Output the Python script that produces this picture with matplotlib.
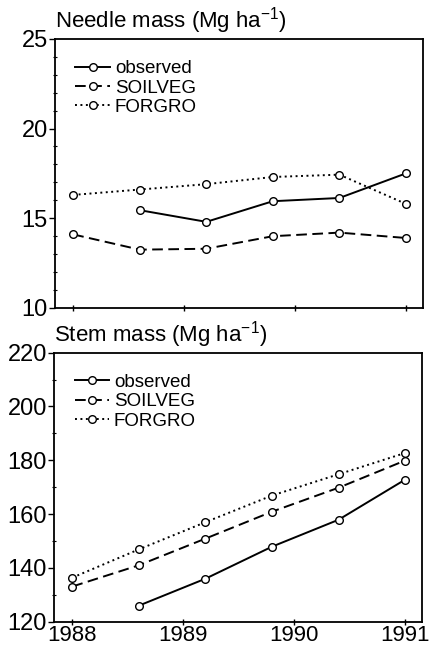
import numpy as np
import matplotlib
matplotlib.use('Agg')
import matplotlib.pyplot as plt
from matplotlib.ticker import MultipleLocator

plt.rcParams['font.family'] = ['Liberation Sans', 'DejaVu Sans']
plt.rcParams['mathtext.default'] = 'regular'

# sampling dates (every 0.6 yr)
years = [1988.0, 1988.6, 1989.2, 1989.8, 1990.4, 1991.0]

# needle mass (Mg/ha)
needle_obs = [15.45, 14.8, 15.95, 16.13, 17.5]
needle_soilveg = [14.1, 13.25, 13.3, 14.0, 14.2, 13.9]
needle_forgro = [16.3, 16.6, 16.9, 17.3, 17.43, 15.8]

# stem mass (Mg/ha)
stem_obs = [126.0, 136.0, 147.9, 157.9, 172.8]
stem_soilveg = [133.1, 141.0, 150.9, 160.9, 169.8, 179.9]
stem_forgro = [136.4, 146.9, 157.0, 166.9, 174.8, 182.7]

fig = plt.figure(figsize=(4.29, 6.47), dpi=100)
ax1 = fig.add_axes([0.128, 0.524, 0.857, 0.416])
ax2 = fig.add_axes([0.126, 0.039, 0.857, 0.416])

mk = dict(marker='o', markersize=5.5, markerfacecolor='white',
          markeredgecolor='black', markeredgewidth=1.0, color='black', lw=1.4)


def panel(ax, obs, soil, forg, title, ylim, major, minor):
    ax.plot(years[1:], obs, ls='-', label='observed', **mk)
    ax.plot(years, soil, ls=(0, (5.5, 2.8)), label='SOILVEG', **mk)
    ax.plot(years, forg, ls=(0, (1.0, 1.8)), label='FORGRO', **mk)
    ax.set_xlim(1987.835, 1991.15)
    ax.set_ylim(*ylim)
    ax.set_xticks([1988, 1989, 1990, 1991])
    ax.yaxis.set_major_locator(MultipleLocator(major))
    ax.yaxis.set_minor_locator(MultipleLocator(minor))
    ax.tick_params(axis='y', which='major', direction='out', length=4,
                   width=1.0, labelsize=17, pad=1)
    ax.tick_params(axis='y', which='minor', direction='inout', length=2.5,
                   width=0.8)
    ax.tick_params(axis='x', which='major', direction='inout', length=5,
                   width=1.0, labelsize=16, pad=0)
    for s in ax.spines.values():
        s.set_linewidth(1.3)
    ax.text(0.0, 1.01, title, transform=ax.transAxes, ha='left',
            va='bottom', fontsize=16)
    ax.legend(loc='upper left', bbox_to_anchor=(0.02, 0.97),
              frameon=False, fontsize=13.5, handlelength=1.85,
              handletextpad=0.25, labelspacing=0.12, borderaxespad=0.3)


panel(ax1, needle_obs, needle_soilveg, needle_forgro,
      'Needle mass (Mg ha$^{-1}$)', (10, 25), 5, 1)
ax1.tick_params(axis='x', labelbottom=False)
panel(ax2, stem_obs, stem_soilveg, stem_forgro,
      'Stem mass (Mg ha$^{-1}$)', (120, 220), 20, 10)

fig.savefig('out.png', dpi=100)
